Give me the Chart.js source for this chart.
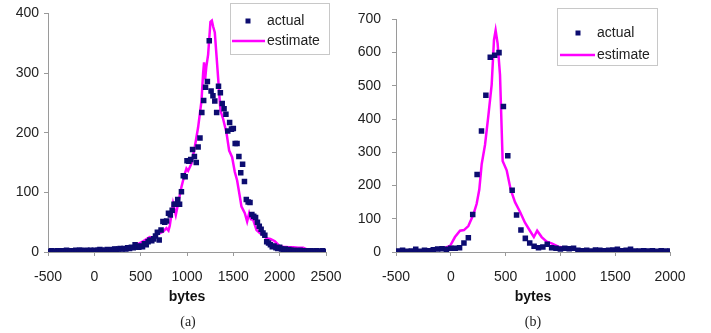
<!DOCTYPE html>
<html>
<head>
<meta charset="utf-8">
<script src="https://cdn.jsdelivr.net/npm/chart.js@4.4.1/dist/chart.umd.min.js"></script>
<style>
  html, body { margin: 0; padding: 0; background: #fff; }
  body { width: 711px; height: 333px; position: relative; overflow: hidden; font-family: "Liberation Sans", Arial, sans-serif; }
  .wrap { position: absolute; top: 0; height: 333px; }
  #wa { left: 0; width: 355px; }
  #wb { left: 355px; width: 356px; }
  .cap { position: absolute; top: 314px; font-family: "Liberation Serif", "Times New Roman", serif; font-size: 14px; color: #222; transform: translateX(-50%); }
</style>
</head>
<body>
<div class="wrap" id="wa"><canvas id="ca" width="355" height="333"></canvas></div>
<div class="wrap" id="wb"><canvas id="cb" width="356" height="333"></canvas></div>
<div class="cap" style="left:188px">(a)</div>
<div class="cap" style="left:533px">(b)</div>
<script>
// ---------- Panel (a) data ----------
const actualXa = [-500,-480,-460,-440,-420,-400,-380,-360,-340,-320,
  -300,-280,-260,-240,-220,-200,-180,-160,-140,-120,
  -100,-80,-60,-40,-20,0,20,40,60,80,
  100,120,140,160,180,200,220,240,260,280,
  300,320,340,360,380,400,420,440,460,480,
  500,520,540,560,580,600,620,640,660,680,
  700,720,740,760,780,800,820,840,860,880,
  900,920,940,960,980,1000,1020,1040,1060,1080,
  1100,1120,1140,1160,1180,1200,1220,1240,1260,1280,
  1300,1320,1340,1360,1380,1400,1420,1440,1460,1480,
  1500,1520,1540,1560,1580,1600,1620,1640,1660,1680,
  1700,1720,1740,1760,1780,1800,1820,1840,1860,1880,
  1900,1920,1940,1960,1980,2000,2020,2040,2060,2080,
  2100,2120,2140,2160,2180,2200,2220,2240,2260,2280,
  2300,2320,2340,2360,2380,2400,2420,2440,2460,2480,2500];
const actualYa = [1,1,2,1,1,2,1,2,1,2,
  3,2,1,2,2,3,2,3,3,2,
  2,3,2,3,2,3,2,3,4,3,
  2,3,4,3,3,4,5,4,5,6,
  5,6,5,7,6,8,7,12,9,8,
  10,9,14,12,17,20,19,22,27,33,
  20,37,51,50,52,65,62,70,80,80,
  88,80,101,128,126,153,152,155,172,160,
  150,176,191,234,254,276,286,354,270,262,
  253,234,278,267,249,240,231,203,217,206,
  207,182,182,160,133,147,118,88,84,83,
  63,60,58,50,43,38,32,28,17,15,
  12,9,10,7,6,8,5,4,5,3,
  4,3,2,3,2,2,3,2,1,2,
  2,1,2,1,1,2,1,1,2,1,1];
const estXa = [-500,-300,-100,100,238,330,418,480,526,598,640,670,742,778,800,814,850,879,904,940,
  976,994,1012,1030,1048,1084,1120,1156,1174,1184,1196,1208,1228,1253,1268,1282,1300,1318,1336,1361,
  1390,1426,1455,1487,1516,1541,1570,1588,1624,1649,1671,1690,1714,1750,1786,1820,1858,1900,1948,2000,
  2038,2100,2146,2200,2254,2300,2344,2400,2434,2500];
const estYa = [0,1,2,3,6,8,9,14,18,25,24,29,34,40,36,44,81,62,81,109,
  131,140,136,142,148,176,209,253,300,318,290,310,331,386,388,378,368,330,292,237,
  223,200,170,159,134,120,93,76,65,51,65,55,54,37,32,28,23,22,18,10,
  9,8,8,7,7,4,3,1,1,0];
const xRangeA = [-500, 2500];   // axis range (tick step 500)
const yRangeA = [0, 400];       // axis range (tick step 100)

// ---------- Panel (b) data ----------
const actualXb = [-480,-440,-400,-360,-320,-280,-240,-200,-160,-120,
  -80,-40,0,40,80,120,160,200,240,280,
  320,360,400,440,480,520,560,600,640,680,
  720,760,800,840,880,920,960,1000,1040,1080,
  1120,1160,1200,1240,1280,1320,1360,1400,1440,1480,
  1520,1560,1600,1640,1680,1720,1760,1800,1840,1880,
  1920,1960,2000];
const actualYb = [3,5,2,3,8,2,5,4,7,9,
  10,8,11,11,13,27,43,113,233,364,
  472,586,592,600,438,290,186,111,66,41,
  27,17,13,15,23,13,11,9,11,10,
  11,5,4,5,3,6,5,4,5,6,
  8,4,5,8,3,3,4,3,4,2,
  4,3,3];
const estXb = [-500,-300,-150,-68,-7,38,84,120,160,205,236,260,282,312,342,373,394,409,427,449,
  473,510,546,586,631,677,722,758,788,829,875,920,981,1057,1148,1300,1604,2000];
const estYb = [0,2,5,11,18,45,64,66,78,112,145,188,265,322,408,504,638,667,628,533,
  274,246,188,150,121,88,64,45,64,45,31,26,16,11,7,2,0,0];
const xRangeB = [-500, 2000];
const yRangeB = [0, 700];

const NAVY = '#0c0c70';
const MAGENTA = '#ff00ff';
const AXIS = '#9a9a9a';
const FONT = "'Liberation Sans', Arial, sans-serif";

function pts(xs, ys) { return xs.map((x, i) => ({x: x, y: ys[i]})); }

function legendPlugin(box) {
  return {
    id: 'boxLegend',
    afterDraw(chart) {
      const ctx = chart.ctx;
      ctx.save();
      ctx.strokeStyle = '#c8c8c8';
      ctx.lineWidth = 1;
      ctx.fillStyle = '#fff';
      ctx.fillRect(box.x, box.y, box.w, box.h);
      ctx.strokeRect(box.x + 0.5, box.y + 0.5, box.w, box.h);
      const ds = chart.data.datasets;
      ctx.fillStyle = ds[0].backgroundColor;
      ctx.fillRect(box.mx - 2.5, box.y1 - 2.5, 5, 5);
      ctx.strokeStyle = ds[1].borderColor;
      ctx.lineWidth = 2.5;
      ctx.beginPath();
      ctx.moveTo(box.lx0, box.y2);
      ctx.lineTo(box.lx1, box.y2);
      ctx.stroke();
      ctx.fillStyle = '#222';
      ctx.font = '14px ' + FONT;
      ctx.textBaseline = 'middle';
      ctx.textAlign = 'left';
      ctx.fillText(ds[0].label, box.tx, box.y1);
      ctx.fillText(ds[1].label, box.tx, box.y2);
      ctx.restore();
    }
  };
}

function makeChart(id, aX, aY, eX, eY, xr, yr, pad, yW, yPad, box) {
  return new Chart(document.getElementById(id), {
    type: 'scatter',
    data: {
      datasets: [
        { label: 'actual', data: pts(aX, aY), backgroundColor: NAVY, borderColor: NAVY,
          pointStyle: 'rect', pointRadius: 3.9, pointBorderWidth: 0, showLine: false, order: 0 },
        { label: 'estimate', data: pts(eX, eY), borderColor: MAGENTA, backgroundColor: MAGENTA,
          showLine: true, borderWidth: 2.5, pointRadius: 0, tension: 0, order: 1 }
      ]
    },
    options: {
      responsive: false,
      animation: false,
      events: [],
      layout: { padding: pad },
      plugins: { legend: { display: false }, tooltip: { enabled: false } },
      scales: {
        x: {
          type: 'linear', min: xr[0], max: xr[1],
          ticks: { stepSize: 500, color: '#222', font: { family: FONT, size: 14 }, padding: 13, maxRotation: 0,
                   callback: v => String(v) },
          grid: { drawOnChartArea: false, drawTicks: true, tickLength: 4, color: AXIS },
          border: { display: true, color: AXIS, width: 1 },
          title: { display: true, text: 'bytes', color: '#111', font: { family: FONT, size: 14, weight: 'bold' }, padding: { top: 0, bottom: 1 } },
          afterFit(s) { s.height = 55; }
        },
        y: {
          type: 'linear', min: yr[0], max: yr[1],
          ticks: { stepSize: 100, color: '#222', font: { family: FONT, size: 14 }, padding: yPad,
                   callback: v => String(v) },
          grid: { drawOnChartArea: false, drawTicks: true, tickLength: 4, color: AXIS },
          border: { display: true, color: AXIS, width: 1 },
          afterFit(s) { s.width = yW; }
        }
      }
    },
    plugins: [legendPlugin(box)]
  });
}

makeChart('ca', actualXa, actualYa, estXa, estYa, xRangeA, yRangeA,
  { left: 0, top: 12, right: 29, bottom: 26 }, 48, 5,
  { x: 230, y: 3, w: 99, h: 51, mx: 248, y1: 21, lx0: 232, lx1: 265, y2: 41, tx: 267 });
makeChart('cb', actualXb, actualYb, estXb, estYb, xRangeB, yRangeB,
  { left: 0, top: 8, right: 41, bottom: 26 }, 41, 11,
  { x: 202, y: 8, w: 100, h: 57, mx: 223, y1: 33, lx0: 205, lx1: 240, y2: 55, tx: 242 });
</script>
</body>
</html>
